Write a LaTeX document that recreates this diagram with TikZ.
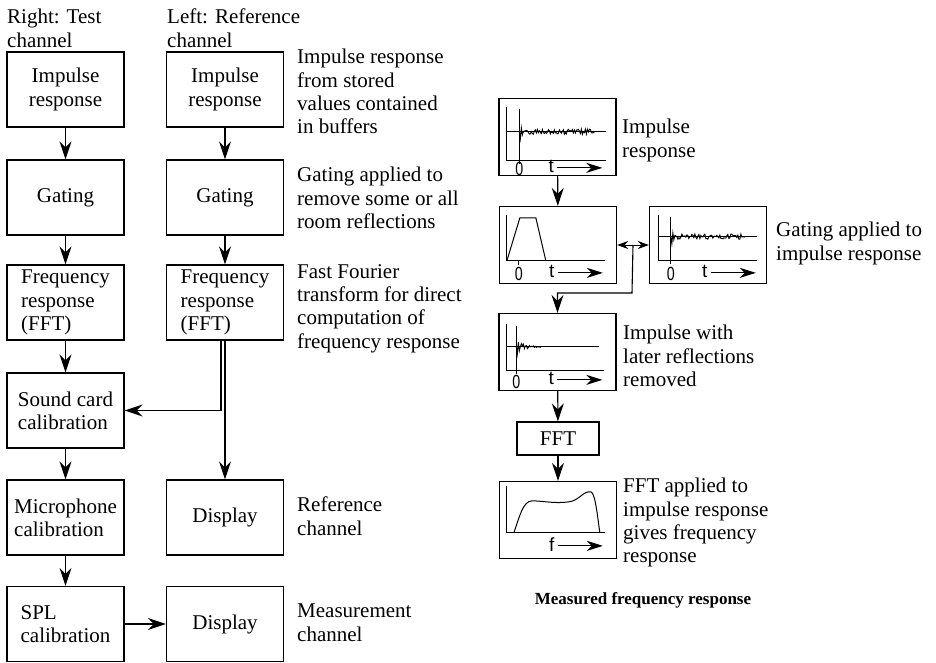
\documentclass[tikz,border=0pt]{standalone}
\usepackage{fontspec}
\setmainfont{Liberation Serif}
\setsansfont{Liberation Sans}
\usetikzlibrary{arrows.meta,calc}
\begin{document}
\begin{tikzpicture}[x=1pt,y=-1pt,
  every node/.style={font=\fontsize{21}{23.3}\selectfont},
  box/.style={draw, line width=1.3pt, minimum width=117pt, minimum height=75pt, inner sep=0pt, align=center},
  pbox/.style={draw, line width=1.3pt, minimum width=117pt, minimum height=77pt, inner sep=0pt},
  desc/.style={anchor=north west, inner sep=0pt, align=left},
  arr/.style={line width=1.1pt, -{Stealth[length=18pt,width=12pt,inset=6pt]}},
  darr/.style={line width=1pt, {Stealth[length=11pt,width=8pt,inset=3.5pt]}-{Stealth[length=11pt,width=8pt,inset=3.5pt]}},
  tarr/.style={line width=1.2pt, -{Stealth[length=16pt,width=10pt,inset=5pt]}},
  ax/.style={line width=1pt},
  noise/.style={line width=0.9pt},
  lbl/.style={font=\sffamily\fontsize{19}{19}\selectfont, inner sep=0pt},
  zlbl/.style={lbl, xscale=0.75}
]
\useasboundingbox (0,0) rectangle (936,662);

% headers
\node[desc] (h1) at (7,9) {Right: Test\\channel};
\node[desc] (h2) at (167,9) {Left: Reference\\channel};

% test channel
\node[box] (t1) at (65.5,89.5) {Impulse\\response};
\node[box] (t2) at (65.5,197.5) {Gating};
\node[box,align=left] (t3) at (65.5,302.5) {Frequency\\response\\(FFT)};
\node[box,align=left] (t4) at (65.5,410.5) {Sound card\\calibration};
\node[box,align=left] (t5) at (65.5,517.5) {Microphone\\calibration};
\node[box,align=left] (t6) at (65.5,624) {SPL\\calibration};

% reference channel
\node[box] (r1) at (225,89.5) {Impulse\\response};
\node[box] (r2) at (225,197.5) {Gating};
\node[box,align=left] (r3) at (225,302.5) {Frequency\\response\\(FFT)};
\node[box] (r4) at (225,517.5) {Display};
\node[box] (r5) at (225,624) {Display};

% descriptions
\node[desc] (d1) at (297,49) {Impulse response\\from stored\\values contained\\in buffers};
\node[desc] (d2) at (297,167) {Gating applied to\\remove some or all\\room reflections};
\node[desc] (d3) at (297,264) {Fast Fourier\\transform for direct\\computation of\\frequency response};
\node[desc] (d4) at (297,497) {Reference\\channel};
\node[desc] (d5) at (297,604) {Measurement\\channel};

% left connectors
\draw[arr] (t1) -- (t2);
\draw[arr] (t2) -- (t3);
\draw[arr] (t3) -- (t4);
\draw[arr] (t4) -- (t5);
\draw[arr] (t5) -- (t6);
\draw[arr] (t6) -- (r5);
\draw[arr] (r1) -- (r2);
\draw[arr] (r2) -- (r3);
\draw[arr] (r3) -- (r4);
\draw[arr] ([xshift=-4pt]r3.south) |- (t4.east);

% right section boxes
\node[pbox] (p1) at (557.5,137) {};
\node[pbox] (p2) at (558,245) {};
\node[pbox] (p3) at (708,245) {};
\node[pbox] (p4) at (557.5,352) {};
\node[draw, line width=1.3pt, minimum width=82pt, minimum height=33pt, inner sep=0pt] (fft) at (558,438.5) {FFT};
\node[pbox] (p5) at (558,520) {};

% plot 1: impulse response
\begin{scope}[shift={(p1.north west)}]
  \draw[ax] (8,9) -- (8,63) -- (108,63);
  \draw[ax] (8,34) -- (108,34);
  \draw[ax] (21,11) -- (21,66);
  \pgfmathsetseed{11}
  \draw[noise] (21,34) -- (22,41) -- (23,30) -- (24,37) \foreach \i in {25,...,96} { -- (\i, {34+2.8*rand}) };
  \node[zlbl] at (21,71) {0};
  \node[lbl] at (53,69) {t};
  \draw[tarr] (59,70) -- (104,70);
\end{scope}

% plot 2: gate
\begin{scope}[shift={(p2.north west)}]
  \draw[ax] (8,9) -- (8,55) -- (106,55);
  \draw[ax] (8,55) -- (21,12) -- (37,12) -- (47,55);
  \draw[ax] (20,55) -- (20,59);
  \node[zlbl] at (20,68) {0};
  \node[lbl] at (53,66) {t};
  \draw[tarr] (59,67) -- (104,67);
\end{scope}

% plot 3: impulse response
\begin{scope}[shift={(p3.north west)}]
  \draw[ax] (10,9) -- (10,55) -- (108,55);
  \draw[ax] (10,31) -- (108,31);
  \draw[ax] (22,11) -- (22,58);
  \pgfmathsetseed{23}
  \draw[noise] (22,31) -- (23,38) -- (24,27) -- (25,34) \foreach \i in {26,...,96} { -- (\i, {31+2.8*rand}) };
  \node[zlbl] at (22,68) {0};
  \node[lbl] at (56,66) {t};
  \draw[tarr] (62,67) -- (107,67);
\end{scope}

% plot 4: gated impulse
\begin{scope}[shift={(p4.north west)}]
  \draw[ax] (8,11) -- (8,58) -- (106,58);
  \draw[ax] (8,34) -- (101,34);
  \draw[ax] (18,13) -- (18,61);
  \pgfmathsetseed{5}
  \draw[noise] (18,34) -- (19,41) -- (20,29) -- (21,38) \foreach \i in {22,...,42} { -- (\i, {34+4*rand*exp(-(\i-22)/10)}) } -- (43,34);
  \node[zlbl] at (18,69) {0};
  \node[lbl] at (53,66) {t};
  \draw[tarr] (59,67) -- (104,67);
\end{scope}

% plot 5: frequency response
\begin{scope}[shift={(p5.north west)}]
  \draw[ax] (8,5) -- (8,52) -- (106,52);
  \draw[ax] (15,52) .. controls (20,38) and (24,20) .. (33,20)
     .. controls (45,20) and (55,23) .. (70,21)
     .. controls (80,20) and (84,10) .. (92,11)
     .. controls (96,12) and (98,30) .. (101,52);
  \node[lbl] at (53,64) {f};
  \draw[tarr] (59,65) -- (104,65);
\end{scope}

% right connectors
\draw[arr] (p1) -- (p2);
\draw[darr] (p2) -- (p3);
\coordinate (m) at ($(p2.east)!0.5!(p3.west)$);
\coordinate (m2) at (632,293);
\draw[arr] (m) -- (m2) -| (p4.north);
\draw[arr] (p4) -- (fft);
\draw[arr] (fft) -- (p5);

% right descriptions
\node[desc] (e1) at (622,119) {Impulse\\response};
\node[desc] (e2) at (776,222) {Gating applied to\\impulse response};
\node[desc] (e3) at (623,325) {Impulse with\\later reflections\\removed};
\node[desc] (e4) at (623,478) {FFT applied to\\impulse response\\gives frequency\\response};
\node[font=\bfseries\fontsize{17}{18}\selectfont] (cap) at (643,600) {Measured frequency response};
\end{tikzpicture}
\end{document}
